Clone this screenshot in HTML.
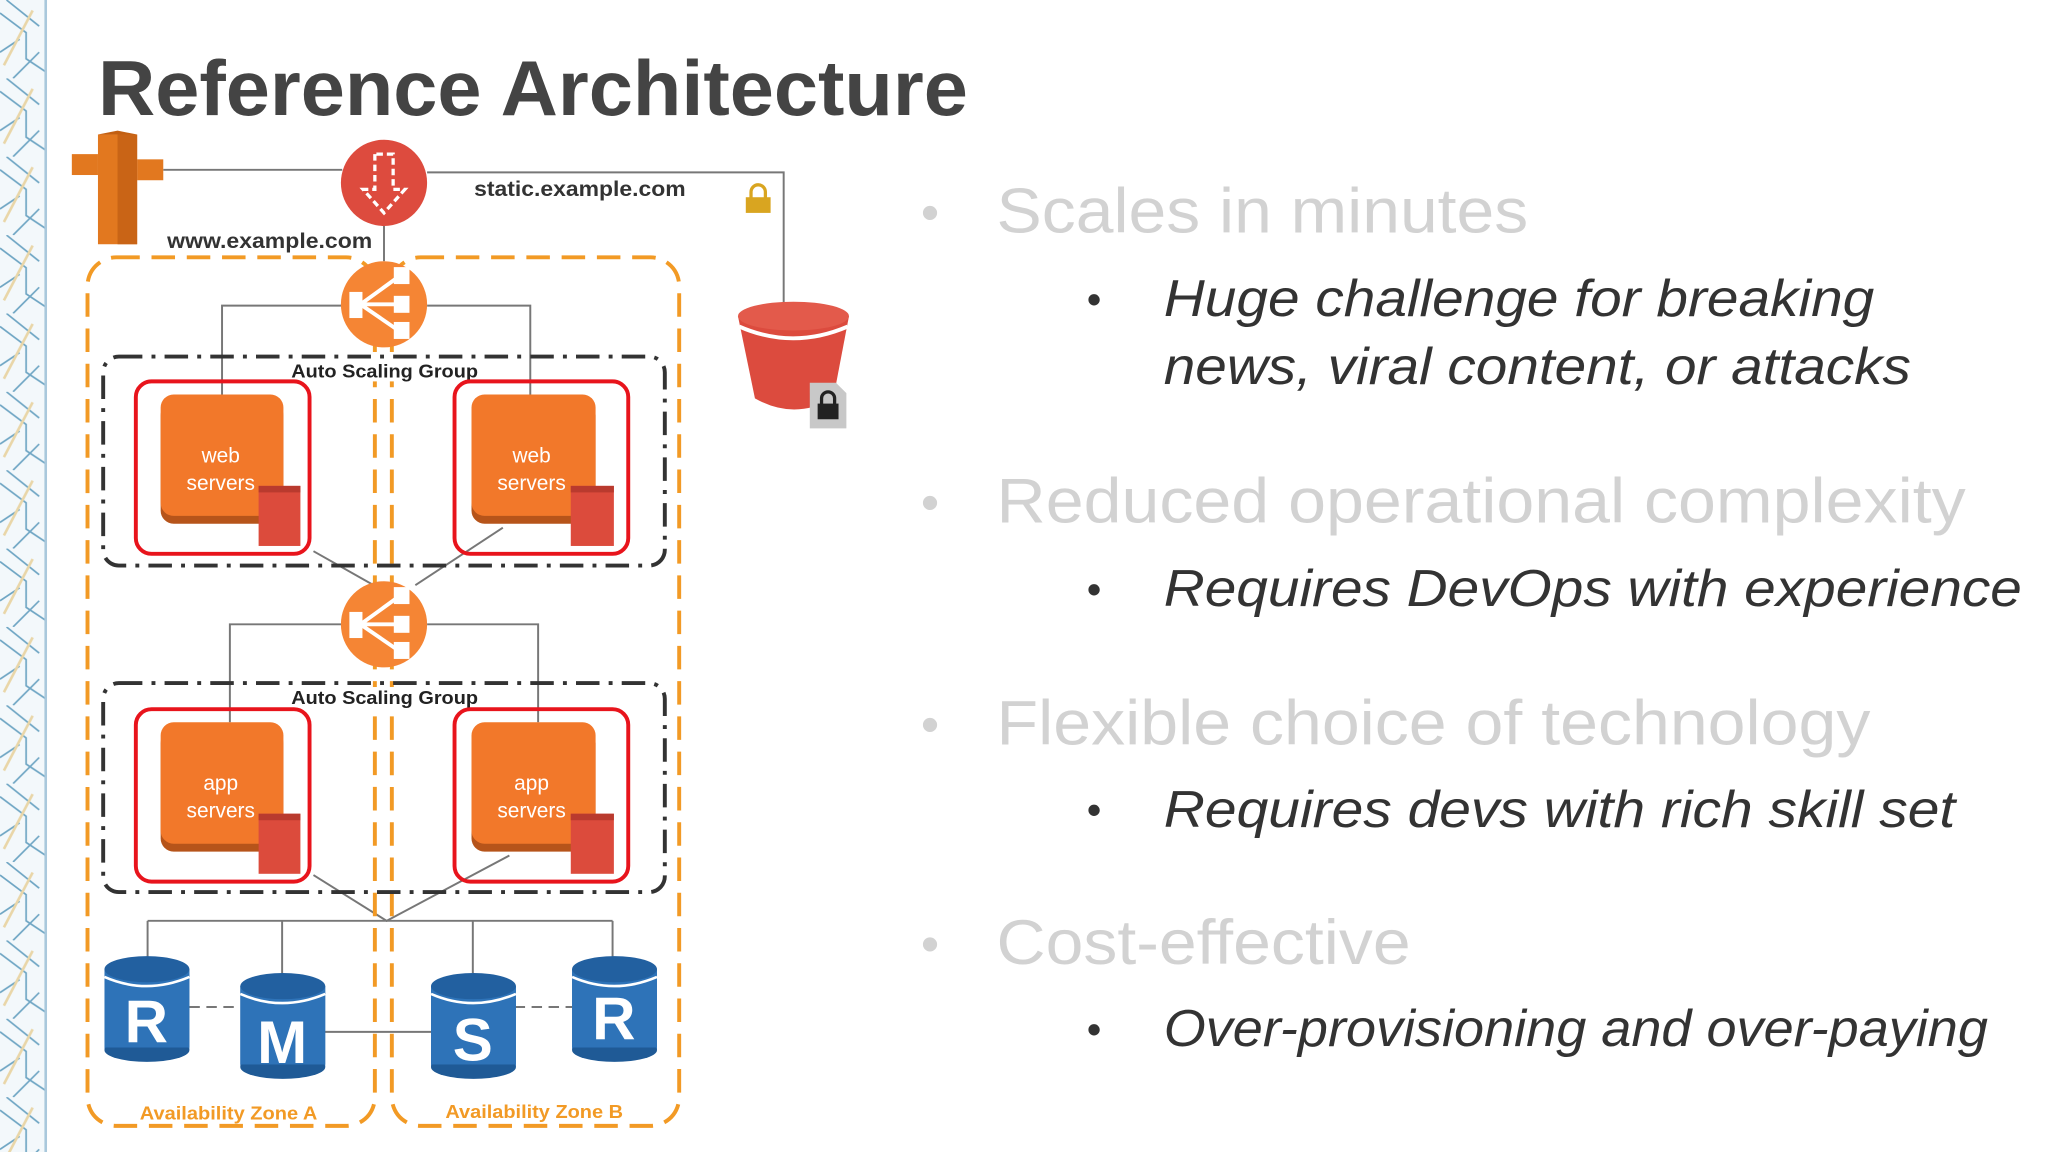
<!DOCTYPE html>
<html><head><meta charset="utf-8">
<style>
html,body{margin:0;padding:0;background:#fff;width:2048px;height:1152px;overflow:hidden}
svg{display:block}
</style></head>
<body>
<svg width="2048" height="1152" viewBox="0 0 1568 882" preserveAspectRatio="none" xmlns="http://www.w3.org/2000/svg" font-family="Liberation Sans, Arial, sans-serif">
<defs>
<pattern id="pat" width="35" height="60" patternUnits="userSpaceOnUse">
<rect width="35" height="60" fill="#f3f8fb"/>
<path d="M0 10 L20 25 L20 45 L35 55 M5 0 L30 20 M0 40 L15 30 M10 60 L30 40" stroke="#6fa6c4" stroke-width="1.3" fill="none"/>
<path d="M3 50 L25 8" stroke="#e9d6a8" stroke-width="2" fill="none"/>
</pattern>
</defs>
<rect x="0" y="0" width="35" height="882" fill="url(#pat)"/>
<line x1="35" y1="0" x2="35" y2="882" stroke="#a9c8dc" stroke-width="2"/>

<text x="75" y="88" font-size="60" font-weight="bold" fill="#444" textLength="666" lengthAdjust="spacingAndGlyphs">Reference Architecture</text>

<g stroke="#777" stroke-width="1.5" fill="none">
<path d="M125 130 H262"/>
<path d="M327 132 H600 V232"/>
<path d="M294 173 V200"/>
<path d="M262 234 H170 V302"/>
<path d="M327 234 H406 V302"/>
<path d="M240 422 L286 448"/>
<path d="M385 404 L318 448"/>
<path d="M262 478 H176 V553"/>
<path d="M327 478 H412 V553"/>
<path d="M240 670 L296 705 L390 655"/>
<path d="M113 705 H469"/>
<path d="M113 705 V735 M216 705 V748 M362 705 V745 M469 705 V733"/>
<path d="M248 790 H330"/>
<path d="M145 771 H184 M394 771 H438" stroke-dasharray="8 5"/>
</g>

<g stroke="#f29a25" stroke-width="3" fill="none" stroke-dasharray="18 9">
<rect x="67" y="197" width="220" height="665" rx="22"/>
<rect x="300" y="197" width="220" height="665" rx="22"/>
</g>
<text x="107" y="857" font-size="14" font-weight="bold" fill="#f29a25" textLength="136" lengthAdjust="spacingAndGlyphs">Availability Zone A</text>
<text x="341" y="856" font-size="14" font-weight="bold" fill="#f29a25" textLength="136" lengthAdjust="spacingAndGlyphs">Availability Zone B</text>

<g stroke="#333" stroke-width="3" fill="none" stroke-dasharray="18 7 3 7">
<rect x="79" y="273" width="430" height="160" rx="12"/>
<rect x="79" y="523" width="430" height="160" rx="12"/>
</g>
<rect x="222" y="276" width="146" height="16" fill="#fff"/>
<text x="223" y="289" font-size="14" font-weight="bold" fill="#222" textLength="143" lengthAdjust="spacingAndGlyphs">Auto Scaling Group</text>
<rect x="222" y="526" width="146" height="16" fill="#fff"/>
<text x="223" y="539" font-size="14" font-weight="bold" fill="#222" textLength="143" lengthAdjust="spacingAndGlyphs">Auto Scaling Group</text>

<g id="srv">
<rect x="104" y="292" width="133" height="132" rx="12" fill="none" stroke="#e8141c" stroke-width="3"/>
<rect x="123" y="308" width="94" height="93" rx="10" fill="#b6541a"/>
<rect x="123" y="302" width="94" height="93" rx="10" fill="#f2782a"/>
<rect x="198" y="372" width="32" height="46" fill="#dc4b3c"/>
<rect x="198" y="372" width="32" height="5" fill="#b93a2e"/>
</g>
<use href="#srv" y="251"/>
<g id="srv2">
<rect x="348" y="292" width="133" height="132" rx="12" fill="none" stroke="#e8141c" stroke-width="3"/>
<rect x="361" y="308" width="95" height="93" rx="10" fill="#b6541a"/>
<rect x="361" y="302" width="95" height="93" rx="10" fill="#f2782a"/>
<rect x="437" y="372" width="33" height="46" fill="#dc4b3c"/>
<rect x="437" y="372" width="33" height="5" fill="#b93a2e"/>
</g>
<use href="#srv2" y="251"/>
<g fill="#fff" font-size="16" text-anchor="middle">
<text x="169" y="354">web</text><text x="169" y="375">servers</text>
<text x="407" y="354">web</text><text x="407" y="375">servers</text>
<text x="169" y="605">app</text><text x="169" y="626">servers</text>
<text x="407" y="605">app</text><text x="407" y="626">servers</text>
</g>

<g id="elb">
<circle cx="294" cy="233" r="33" fill="#f58534"/>
<g stroke="#fff" stroke-width="3" fill="#fff">
<rect x="269" y="225" width="7" height="17"/>
<path d="M276 233 L305 212 M276 233 L305 233 M276 233 L305 253" fill="none"/>
<rect x="303" y="206" width="9" height="10"/><rect x="303" y="228" width="9" height="10"/><rect x="303" y="248" width="9" height="10"/>
</g>
</g>
<use href="#elb" y="245"/>

<g fill="#e2781f">
<rect x="75" y="103" width="30" height="84"/>
<polygon points="75,103 90,100 105,103" fill="#c25f12"/>
<rect x="55" y="118" width="20" height="16"/>
<rect x="105" y="122" width="20" height="16"/>
<rect x="90" y="103" width="15" height="84" fill="#c96416"/>
</g>

<circle cx="294" cy="140" r="33" fill="#dd4b3e"/>
<path d="M287 118 V145 L278 145 L294 163 L310 145 L301 145 V118 Z" fill="none" stroke="#fff" stroke-width="2.5" stroke-dasharray="5 3"/>

<text x="363" y="150" font-size="16" font-weight="bold" fill="#333" textLength="162" lengthAdjust="spacingAndGlyphs">static.example.com</text>
<text x="128" y="190" font-size="16" font-weight="bold" fill="#333" textLength="157" lengthAdjust="spacingAndGlyphs">www.example.com</text>

<path d="M575 152 V147 a5.5 5.5 0 0 1 11 0 V152" fill="none" stroke="#d9a520" stroke-width="2.5"/>
<rect x="571" y="151" width="19" height="12" fill="#d9a520"/>

<path d="M565 242 L578 305 Q608 322 638 305 L650 242 Z" fill="#dc4b3e"/>
<ellipse cx="607.5" cy="242" rx="42.5" ry="11" fill="#e35a4b"/>
<path d="M566 250 Q607 268 649 250" stroke="#fff" stroke-width="3" fill="none"/>
<path d="M620 293 H640 L648 301 V328 H620 Z" fill="#c8c8c8"/>
<path d="M629 310 V305 a5 5 0 0 1 10 0 V310" fill="none" stroke="#222" stroke-width="2.5"/>
<rect x="626" y="309" width="16" height="12" fill="#222"/>

<g id="db">
<rect x="80" y="742" width="65" height="62" fill="#2e73b8"/>
<ellipse cx="112.5" cy="804" rx="32.5" ry="9" fill="#1f5a96"/>
<rect x="80" y="742" width="65" height="60" fill="#2e73b8"/>
<ellipse cx="112.5" cy="742" rx="32.5" ry="10" fill="#2260a0"/>
<path d="M80 748 Q112 762 145 748" stroke="#fff" stroke-width="2" fill="none"/>
</g>
<use href="#db" x="104" y="13"/>
<use href="#db" x="250" y="13"/>
<use href="#db" x="358" y="0"/>
<g fill="#fff" font-size="46" font-weight="bold" text-anchor="middle">
<text x="112" y="798">R</text>
<text x="216" y="814">M</text>
<text x="362" y="812">S</text>
<text x="470" y="796">R</text>
</g>

<g fill="#d2d2d2" font-size="48">
<text x="705" y="176" font-size="40">•</text>
<text x="763" y="178" textLength="407" lengthAdjust="spacingAndGlyphs">Scales in minutes</text>
<text x="705" y="398" font-size="40">•</text>
<text x="763" y="400" textLength="742" lengthAdjust="spacingAndGlyphs">Reduced operational complexity</text>
<text x="705" y="568" font-size="40">•</text>
<text x="763" y="570" textLength="669" lengthAdjust="spacingAndGlyphs">Flexible choice of technology</text>
<text x="705" y="736" font-size="40">•</text>
<text x="763" y="738" textLength="317" lengthAdjust="spacingAndGlyphs">Cost-effective</text>
</g>
<g fill="#333" font-size="40" font-style="italic">
<text x="832" y="240" font-style="normal" font-size="32">•</text>
<text x="891" y="242" textLength="544" lengthAdjust="spacingAndGlyphs">Huge challenge for breaking</text>
<text x="891" y="294" textLength="572" lengthAdjust="spacingAndGlyphs">news, viral content, or attacks</text>
<text x="832" y="462" font-style="normal" font-size="32">•</text>
<text x="891" y="464" textLength="657" lengthAdjust="spacingAndGlyphs">Requires DevOps with experience</text>
<text x="832" y="631" font-style="normal" font-size="32">•</text>
<text x="891" y="633" textLength="606" lengthAdjust="spacingAndGlyphs">Requires devs with rich skill set</text>
<text x="832" y="799" font-style="normal" font-size="32">•</text>
<text x="891" y="801" textLength="631" lengthAdjust="spacingAndGlyphs">Over-provisioning and over-paying</text>
</g>
</svg>
</body></html>
